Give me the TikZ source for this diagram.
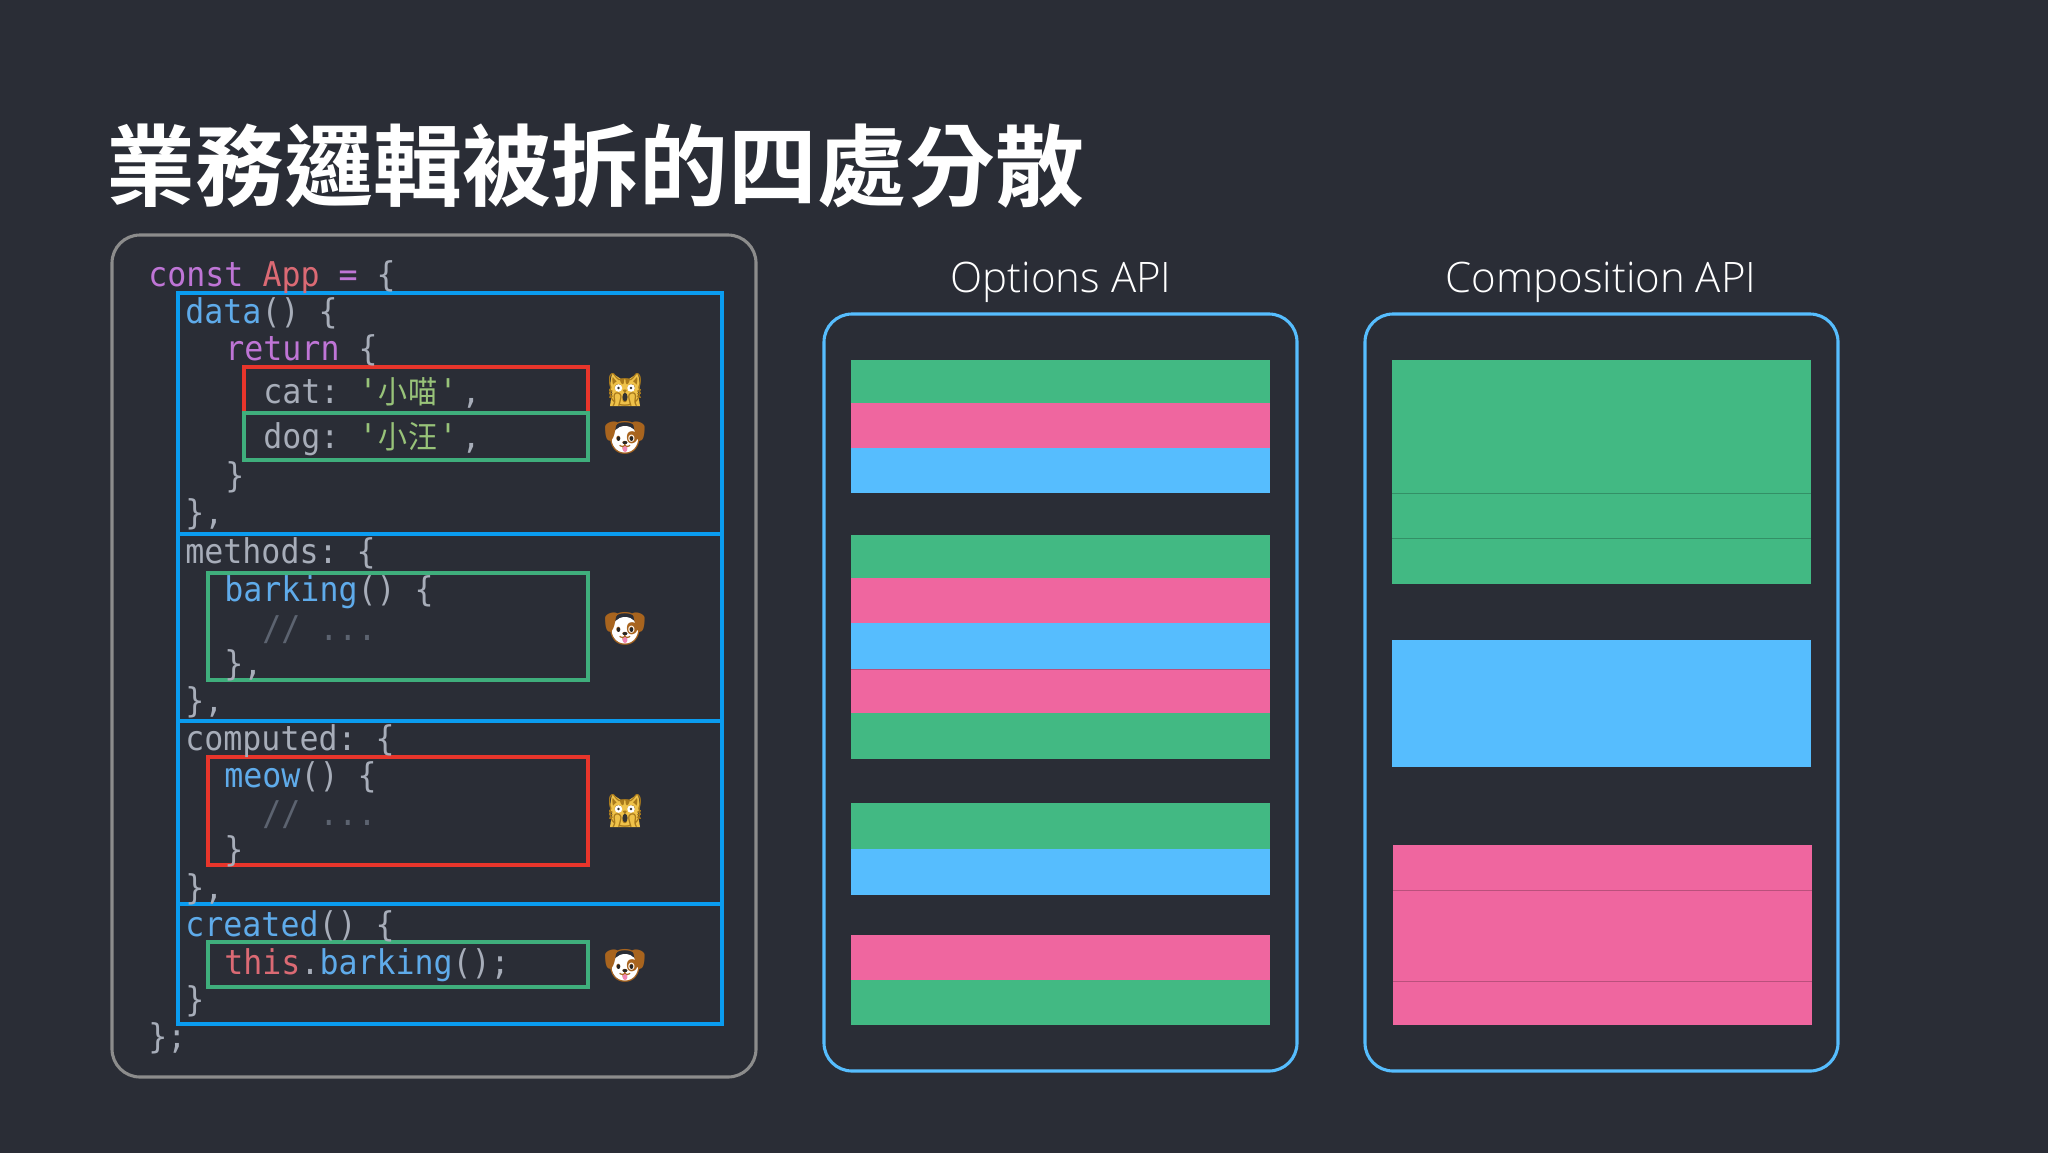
\documentclass[tikz,border=0pt]{standalone}
\usepackage{graphicx}
\usepackage{fontspec}
\setmonofont{DejaVu Sans Mono}
\newfontfamily\cjk{Noto Sans CJK TC}
\newfontfamily\cjkb{Noto Sans CJK TC Bold}
\newfontfamily\apifont{Open Sans Light}
\newfontfamily\emojifont{Noto Emoji}
\definecolor{bgc}{HTML}{2A2D36}
\definecolor{kw}{HTML}{BF75D6}
\definecolor{rd}{HTML}{DB6A74}
\definecolor{gy}{HTML}{A7ADB9}
\definecolor{fn}{HTML}{5FABEA}
\definecolor{st}{HTML}{98C379}
\definecolor{cm}{HTML}{5C6370}
\definecolor{sgreen}{HTML}{42B983}
\definecolor{spink}{HTML}{EF669F}
\definecolor{sblue}{HTML}{56BDFE}
\definecolor{bblue}{HTML}{0A9CF0}
\definecolor{bred}{HTML}{E8352B}
\definecolor{bgreen}{HTML}{3FAE7C}
\definecolor{catc}{HTML}{EFC24A}
\definecolor{catl}{HTML}{A97A1C}
\definecolor{earc}{HTML}{A8641E}
\newlength{\unitpx}\setlength{\unitpx}{0.5pt}
\newcommand{\zh}[1]{\makebox[30.5\unitpx][c]{\fontsize{14.5pt}{14.5pt}\cjk\color{st}#1}}
\newcommand{\cl}[1]{\scalebox{1}[1.08]{#1}}
\tikzset{
  x=0.5pt,y=-0.5pt,
  code/.style={anchor=base west,inner sep=0pt,font=\fontsize{15.8pt}{15.8pt}\ttfamily,text=gy},
  outer/.style={draw=#1,line width=1.55pt,rounded corners=14pt},
  hl/.style={draw=#1,line width=1.7pt},
  stripe/.style={fill=#1,draw=none},
  api/.style={anchor=center,inner sep=0pt,font=\fontsize{21pt}{21pt}\apifont,text=white},
  emo/.style={inner sep=0pt,font=\fontsize{17pt}{17pt}\emojifont,text=#1},
  thinline/.style={draw=black!22!#1,line width=0.35pt},
  pics/catface/.style={code={
    \fill[catc] (-13,-17) -- (-4,-11) -- (4,-11) -- (13,-17) -- (15,-5) -- (13,3) -- (15,16) -- (-15,16) -- (-13,3) -- (-15,-5) -- cycle;
    \begin{scope}
      \clip (-15.5,-18) rectangle (15.5,17);
      \node[emo=catl] (#1) at (0,0) {\symbol{"1F640}};
    \end{scope}
    \fill[white] (-6.5,-2) circle (3.8) (6,-2) circle (3.8);
    \fill[black!80] (-6.5,-2) circle (1.4) (6,-2) circle (1.4) (0,7) ellipse (2.6 and 4.2);}},
  pics/dogface/.style={code={
    \fill[white] (0,1.5) ellipse (13.5 and 13.5);
    \node[emo=earc] (#1) at (0,0) {\symbol{"1F436}};
    \fill[black!85] (-6.5,0.6) ellipse (1.7 and 2.3) (6.5,0.6) ellipse (1.7 and 2.3) (0,4.6) ellipse (2.4 and 1.5);
    \fill[spink!80!white] (0,11) ellipse (2.4 and 3);}},
}
\begin{document}
\begin{tikzpicture}
\useasboundingbox (0,0) rectangle (2048,1152);
\fill[bgc] (-10,-10) rectangle (2058,1162);
\node[anchor=base west,inner sep=0pt,text=white,font=\fontsize{44.45pt}{44.45pt}\cjkb] (title) at (106,199) {業務邏輯被拆的四處分散};
% left panel
\draw[outer=gray!90!white] (112,235) rectangle (756,1077);
\foreach \a/\b in {293/534,534/721,721/904,904/1024}
  \draw[hl=bblue] (178,\a) rectangle (722,\b);
\draw[hl=bred] (244,367) rectangle (588,413);
\draw[hl=bgreen] (244,413) rectangle (588,460);
\draw[hl=bgreen] (208,573) rectangle (588,680);
\draw[hl=bred] (208,757) rectangle (588,865);
\draw[hl=bgreen] (208,942) rectangle (588,987);
% code
\node[code] (l1) at (148,286) {\cl{\textcolor{kw}{const} \textcolor{rd}{App} \textcolor{kw}{=} \{}};
\node[code] (l2) at (185,323) {\cl{\textcolor{fn}{data}() \{}};
\node[code] (l3) at (225,360) {\cl{\textcolor{kw}{return} \{}};
\node[code] (l4) at (263,403) {\cl{cat: \textcolor{st}{'\zh{小}\zh{喵}'}\hspace{2pt},}};
\node[code] (l5) at (263,448) {\cl{dog: \textcolor{st}{'\zh{小}\zh{汪}'}\hspace{2pt},}};
\node[code] (l6) at (225,487) {\cl{\}}};
\node[code] (l7) at (185,524) {\cl{\},}};
\node[code] (l8) at (185,563) {\cl{methods: \{}};
\node[code] (l9) at (224,601) {\cl{\textcolor{fn}{barking}() \{}};
\node[code] (l10) at (262,640) {\cl{\textcolor{cm}{// ...}}};
\node[code] (l11) at (224,675) {\cl{\},}};
\node[code] (l12) at (185,712) {\cl{\},}};
\node[code] (l13) at (185,750) {\cl{computed: \{}};
\node[code] (l14) at (224,787) {\cl{\textcolor{fn}{meow}() \{}};
\node[code] (l15) at (262,825) {\cl{\textcolor{cm}{// ...}}};
\node[code] (l16) at (224,861) {\cl{\}}};
\node[code] (l17) at (185,899) {\cl{\},}};
\node[code] (l18) at (185,936) {\cl{\textcolor{fn}{created}() \{}};
\node[code] (l19) at (224,974) {\cl{\textcolor{rd}{this}.\textcolor{fn}{barking}();}};
\node[code] (l20) at (185,1011) {\cl{\}}};
\node[code] (l21) at (148,1048) {\cl{\};}};
% emoji
\pic at (625,390) {catface=e1};
\pic at (625,438) {dogface=e2};
\pic at (625,629) {dogface=e3};
\pic at (625,811) {catface=e4};
\pic at (625,966) {dogface=e5};
% titles
\node[api] (opt) at (1061,282) {Options API};
\node[api] (comp) at (1601,282) {Composition API};
% option panel
\draw[outer=sblue] (824,314) rectangle (1297,1071);
\draw[outer=sblue] (1365,314) rectangle (1838,1071);
\foreach \c/\a/\b in {sgreen/360/403,spink/403/448,sblue/448/493,
  sgreen/535/578,spink/578/623,sblue/623/669,spink/669/713,sgreen/713/759,
  sgreen/803/849,sblue/849/895,
  spink/935/980,sgreen/980/1025}
  \fill[stripe=\c] (851,\a) rectangle (1270,\b);
\fill[stripe=sgreen] (1392,360) rectangle (1811,584);
\fill[stripe=sblue] (1392,640) rectangle (1811,767);
\fill[stripe=spink] (1393,845) rectangle (1812,1025);
\draw[thinline=sgreen] (1392,493) -- (1811,493);
\draw[thinline=sgreen] (1392,538) -- (1811,538);
\draw[thinline=spink] (1393,890) -- (1812,890);
\draw[thinline=spink] (1393,981) -- (1812,981);
\draw[thinline=spink] (851,669) -- (1270,669);
\end{tikzpicture}
\end{document}
